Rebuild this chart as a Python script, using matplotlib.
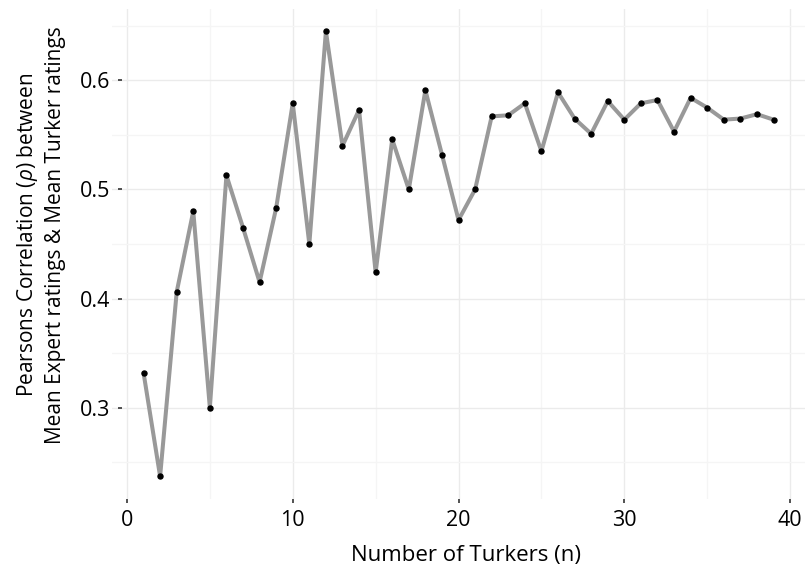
import matplotlib
matplotlib.use("Agg")
import matplotlib.pyplot as plt
from matplotlib.ticker import MultipleLocator

plt.rcParams['font.family'] = ['Open Sans', 'DejaVu Sans']
plt.rcParams['mathtext.fontset'] = 'custom'
plt.rcParams['mathtext.it'] = 'Open Sans:italic'
plt.rcParams['mathtext.rm'] = 'Open Sans'

n_turkers = list(range(1, 40))
correlation = [0.332, 0.237, 0.406, 0.480, 0.300, 0.513, 0.465, 0.415, 0.483, 0.579,
               0.450, 0.645, 0.540, 0.573, 0.424, 0.546, 0.500, 0.591, 0.532, 0.472,
               0.500, 0.567, 0.568, 0.579, 0.535, 0.589, 0.565, 0.551, 0.581, 0.564,
               0.579, 0.582, 0.553, 0.584, 0.575, 0.564, 0.565, 0.569, 0.564]
x_ticks = [0, 10, 20, 30, 40]
y_ticks = [0.3, 0.4, 0.5, 0.6]

fig = plt.figure(figsize=(8.06, 5.65), dpi=100)
ax = fig.add_axes([0.139, 0.1175, 0.8598, 0.8665])

ax.plot(n_turkers, correlation, color='#999999', linewidth=2.9, zorder=3,
        solid_joinstyle='round', solid_capstyle='round')
ax.plot(n_turkers, correlation, 'o', color='black', markersize=3.6, zorder=4)

xr = max(n_turkers) - min(n_turkers)
ax.set_xlim(min(n_turkers) - 0.05 * xr, max(n_turkers) + 0.05 * xr)
yr = max(correlation) - min(correlation)
ax.set_ylim(min(correlation) - 0.05 * yr, max(correlation) + 0.05 * yr)

ax.set_xticks(x_ticks)
ax.set_yticks(y_ticks)
ax.set_xticklabels([str(t) for t in x_ticks])
ax.set_yticklabels([f"{t:.1f}" for t in y_ticks])
ax.xaxis.set_minor_locator(MultipleLocator(5))
ax.yaxis.set_minor_locator(MultipleLocator(0.05))

ax.grid(which='major', color='#EBEBEB', linewidth=1.0, zorder=0)
ax.grid(which='minor', color='#F5F5F5', linewidth=1.0, zorder=0)
for s in ax.spines.values():
    s.set_visible(False)
ax.spines['left'].set_position(('outward', -7.5))
ax.tick_params(which='major', length=3, width=1.1, color='#222222', labelsize=15.5,
               labelcolor='black')
ax.tick_params(axis='y', pad=6)
ax.tick_params(axis='x', pad=5)
ax.tick_params(which='minor', length=0)

ax.set_xlabel('Number of Turkers (n)', fontsize=16)
ax.set_ylabel('Pearsons Correlation ($\\it{\\rho}$) between\nMean Expert ratings & Mean Turker ratings',
              fontsize=15, linespacing=1.35)
ax.xaxis.set_label_coords(0.511, -0.095)
ax.yaxis.set_label_coords(-0.066, 0.538)

fig.savefig('out.png', dpi=100)
